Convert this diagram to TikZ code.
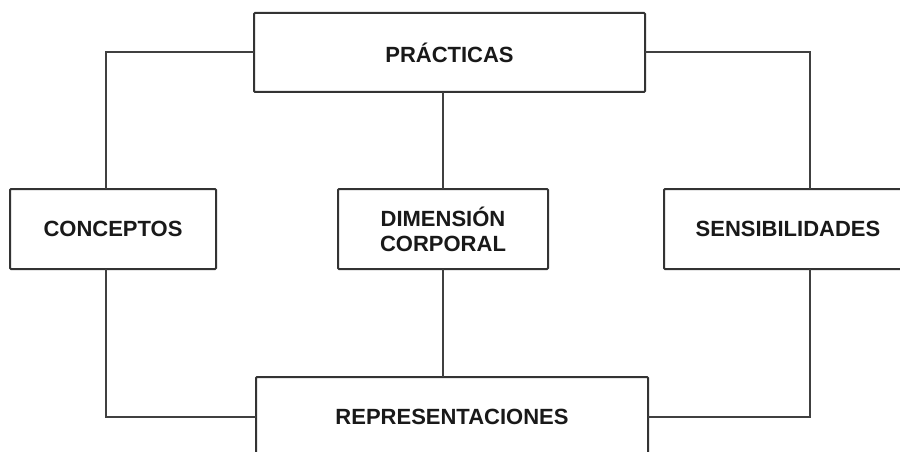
\documentclass[tikz,border=0pt]{standalone}
\usepackage{fontspec}
\setmainfont{Liberation Sans}
\begin{document}
\begin{tikzpicture}[x=1pt,y=-1pt,
  box/.style={draw=black!80, line width=2pt, rounded corners=1pt, fill=white,
    inner sep=0pt, outer sep=0pt, minimum height=80pt,
    font=\bfseries\fontsize{22}{25}\selectfont, text=black!90, align=center},
  link/.style={draw=black!75, line width=2pt}]
\useasboundingbox (0,0) rectangle (900,452);
\clip (0,0) rectangle (900,452);
\coordinate (lx) at (106,0);
\coordinate (rx) at (810,0);
\node[box, minimum width=391pt, minimum height=79pt] (prac) at (449.5,52.5) {PRÁCTICAS};
\node[box, minimum width=206pt] (conc) at (113,229) {CONCEPTOS};
\node[box, minimum width=210pt] (dim) at (443,229) {DIMENSIÓN\\CORPORAL};
\node[box, minimum width=248pt] (sens) at (788,229) {SENSIBILIDADES};
\node[box, minimum width=392pt] (rep) at (452,417) {REPRESENTACIONES};
\begin{scope}[on background layer/.try]
\end{scope}
\draw[link] (prac.west) -| (conc.north -| lx);
\draw[link] (prac.east) -| (sens.north -| rx);
\draw[link] (dim.north) -- (dim.north |- prac.south);
\draw[link] (dim.south) -- (dim.south |- rep.north);
\draw[link] (conc.south -| lx) |- (rep.west);
\draw[link] (sens.south -| rx) |- (rep.east);
\end{tikzpicture}
\end{document}
